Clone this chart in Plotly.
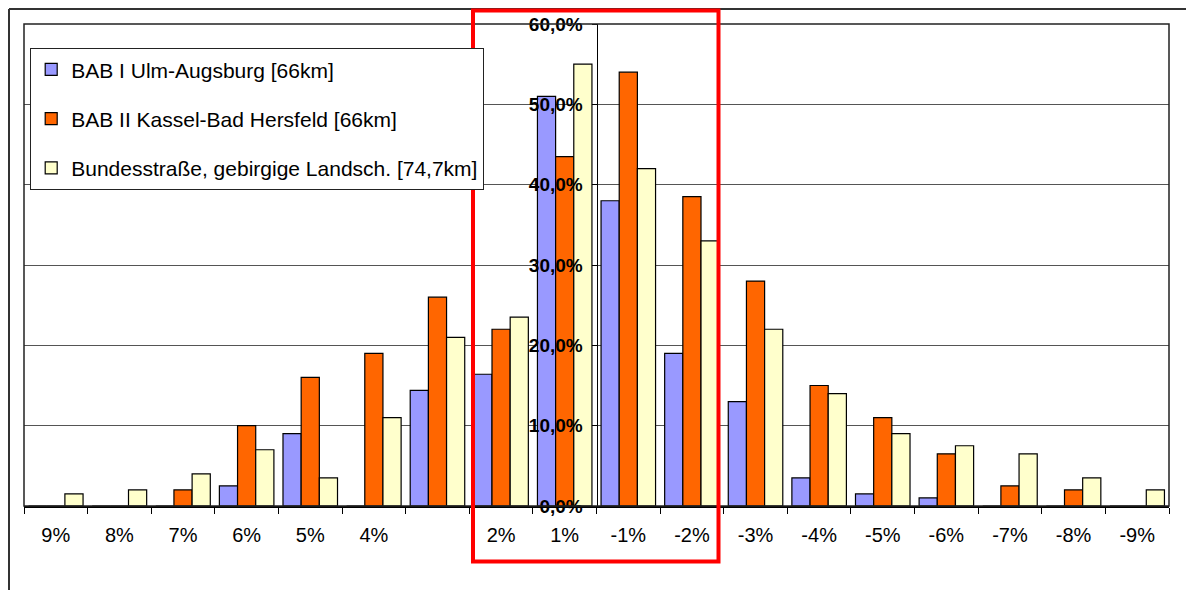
import plotly.graph_objects as go

categories = ["9%", "8%", "7%", "6%", "5%", "4%", "3%", "2%", "1%",
              "-1%", "-2%", "-3%", "-4%", "-5%", "-6%", "-7%", "-8%", "-9%"]
tick_labels = ["9%", "8%", "7%", "6%", "5%", "4%", "", "2%", "1%",
               "-1%", "-2%", "-3%", "-4%", "-5%", "-6%", "-7%", "-8%", "-9%"]

bab1 = [0, 0, 0, 2.5, 9, 0, 14.4, 16.4, 51, 38, 19, 13, 3.5, 1.5, 1, 0, 0, 0]
bab2 = [0, 0, 2, 10, 16, 19, 26, 22, 43.5, 54, 38.5, 28, 15, 11, 6.5, 2.5, 2, 0]
bundes = [1.5, 2, 4, 7, 3.5, 11, 21, 23.5, 55, 42, 33, 22, 14, 9, 7.5, 6.5, 3.5, 2]

series_names = ["BAB I Ulm-Augsburg [66km]",
                "BAB II Kassel-Bad Hersfeld [66km]",
                "Bundesstraße, gebirgige Landsch. [74,7km]"]
series_colors = ["#9999FF", "#FF6600", "#FFFFCC"]
y_ticks = [0, 10, 20, 30, 40, 50, 60]
y_tick_text = [f"{v:.1f}%".replace(".", ",") for v in y_ticks]

FONT = "Liberation Sans, Arial, sans-serif"

fig = go.Figure()
for i, (name, vals, col) in enumerate(zip(series_names, [bab1, bab2, bundes], series_colors)):
    fig.add_trace(go.Bar(
        x=categories, y=vals, name=name, legendgroup=f"g{i}",
        marker=dict(color=col, line=dict(color="black", width=1.2)),
    ))

# page is rendered with an 8px body margin
OFF = 8
W, H = 1194 - OFF, 590 - OFF
# plot area in page pixels
PX0, PX1, PY0, PY1 = 24, 1169, 24, 506
L, R, T, B = PX0 - OFF, 1194 - PX1, PY0 - OFF, 590 - PY1
pw = PX1 - PX0
ph = PY1 - PY0

def px(x):
    return (x - PX0) / pw

def py(y):
    return (PY1 - y) / ph

shapes = [
    # plot area border
    dict(type="rect", xref="paper", yref="paper", x0=0, x1=1, y0=0, y1=1,
         line=dict(color="#222", width=1.5), layer="above"),
    # outer frame lines
    dict(type="line", xref="paper", yref="paper", x0=px(9), x1=px(9),
         y0=py(9), y1=py(600), line=dict(color="#333", width=2)),
    dict(type="line", xref="paper", yref="paper", x0=px(9), x1=px(1200),
         y0=py(9), y1=py(9), line=dict(color="#333", width=2)),
    # red highlight rectangle
    dict(type="rect", xref="paper", yref="paper", x0=px(473), x1=px(718.5),
         y0=py(561.5), y1=py(10.5), line=dict(color="#FF0000", width=4), layer="above"),
]

fig.update_layout(
    template="none",
    width=W, height=H,
    margin=dict(l=L, r=R, t=T, b=B, autoexpand=False),
    paper_bgcolor="white", plot_bgcolor="white",
    barmode="group", bargap=0.143, bargroupgap=0,
    separators=",.",
    font=dict(family=FONT, size=20, color="black"),
    showlegend=True,
    legend=dict(
        x=px(30), y=py(48), xanchor="left", yanchor="top",
        bgcolor="white", bordercolor="#222", borderwidth=1.2,
        font=dict(family=FONT, size=21, color="black"),
        tracegroupgap=19, traceorder="grouped", itemwidth=30,
    ),
    shapes=shapes,
    xaxis=dict(
        type="category", categoryorder="array", categoryarray=categories,
        tickvals=categories, ticktext=tick_labels,
        showline=True, linecolor="black", linewidth=1.5,
        ticks="outside", tickson="boundaries", ticklen=6, tickcolor="black", tickwidth=1,
        tickfont=dict(family=FONT, size=20, color="black"),
        ticklabelstandoff=10, automargin=False,
        showgrid=False, zeroline=False,
    ),
    yaxis=dict(
        range=[0, 60], tickmode="array", tickvals=y_ticks, ticktext=y_tick_text,
        anchor="free", position=0.5, side="left",
        showline=True, linecolor="black", linewidth=1,
        ticks="outside", ticklen=5, tickcolor="black", tickwidth=1,
        tickfont=dict(family=FONT, size=19, color="black", weight="bold"),
        ticklabelstandoff=5, automargin=False,
        showgrid=True, gridcolor="#555", gridwidth=1,
        zeroline=False,
    ),
)

fig.write_html("out.html")
